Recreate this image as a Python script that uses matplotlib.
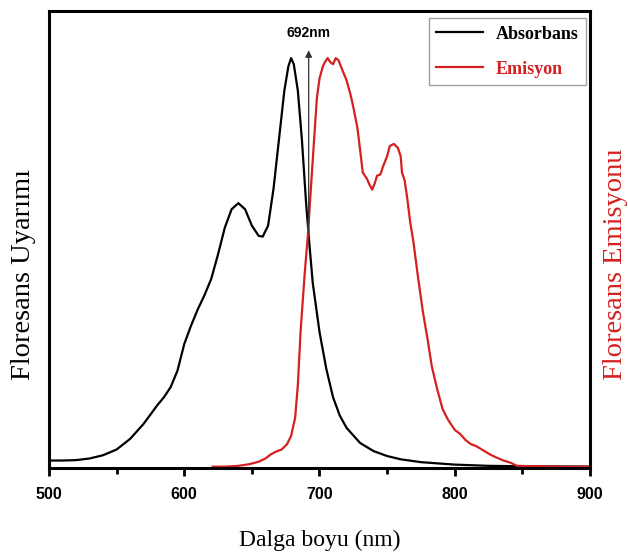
import matplotlib
matplotlib.use("Agg")
import matplotlib.pyplot as plt
from matplotlib.ticker import MultipleLocator

# Absorbans (black) curve
abs_x = [500, 510, 520, 530, 540, 550, 560, 570, 580, 585, 590, 595, 600, 605, 610, 615, 620,
         625, 630, 635, 640, 645, 650, 655, 658, 662, 666, 670, 674, 677, 679, 681, 684, 687,
         690, 692, 695, 700, 705, 710, 715, 720, 730, 740, 750, 760, 775, 800, 825, 850, 900]
abs_y = [0.015, 0.015, 0.016, 0.020, 0.028, 0.042, 0.068, 0.105, 0.150, 0.170, 0.195, 0.235,
         0.300, 0.345, 0.385, 0.420, 0.460, 0.520, 0.585, 0.630, 0.645, 0.630, 0.590, 0.565,
         0.563, 0.590, 0.680, 0.800, 0.920, 0.980, 1.000, 0.985, 0.920, 0.800, 0.650, 0.565,
         0.450, 0.330, 0.240, 0.170, 0.125, 0.095, 0.058, 0.038, 0.026, 0.018, 0.011, 0.005,
         0.002, 0.001, 0.0]

# Emisyon (red) curve
em_x = [621, 630, 640, 648, 655, 660, 664, 668, 672, 676, 679, 682, 684, 686, 689, 691.5,
        694, 696, 698, 700, 702.5, 704, 706, 708, 710, 712, 714, 717, 720, 723, 725, 728,
        730, 732, 735, 737, 739, 741, 742.5, 745, 747, 750, 752, 755, 758, 760, 761, 763,
        765, 767, 769.5, 773, 776.5, 780, 783, 787, 791, 795, 800, 804, 808, 812, 816, 821,
        826, 831, 836, 841, 846, 860, 880, 900]
em_y = [0.0, 0.0, 0.002, 0.006, 0.012, 0.020, 0.030, 0.037, 0.042, 0.055, 0.075, 0.120,
        0.200, 0.330, 0.470, 0.570, 0.700, 0.800, 0.900, 0.950, 0.980, 0.990, 1.000, 0.990,
        0.985, 1.000, 0.995, 0.970, 0.946, 0.910, 0.880, 0.830, 0.776, 0.720, 0.705, 0.690,
        0.678, 0.695, 0.712, 0.715, 0.735, 0.760, 0.785, 0.790, 0.780, 0.760, 0.720, 0.700,
        0.654, 0.600, 0.549, 0.460, 0.378, 0.310, 0.246, 0.190, 0.141, 0.115, 0.090, 0.080,
        0.065, 0.055, 0.050, 0.040, 0.030, 0.022, 0.015, 0.010, 0.002, 0.001, 0.0, 0.0]

xticks = [500, 600, 700, 800, 900]
arrow_x = 692
arrow_label = "692nm"

RED = "#d42020"

fig = plt.figure(figsize=(6.28, 5.57), dpi=100)
ax = fig.add_axes([0.078, 0.160, 0.8615, 0.820])

l1, = ax.plot(abs_x, abs_y, color="black", lw=1.6, label="Absorbans")
l2, = ax.plot(em_x, em_y, color=RED, lw=1.6, label="Emisyon")

ax.set_xlim(500, 900)
ax.set_ylim(-0.003, 1.115)
ax.set_xticks(xticks)
ax.xaxis.set_minor_locator(MultipleLocator(50))
ax.set_yticks([])
ax.tick_params(axis="x", which="major", direction="out", length=6, width=2, pad=8)
ax.tick_params(axis="x", which="minor", direction="out", length=4, width=2)
for lab in ax.get_xticklabels():
    lab.set_fontfamily("Liberation Sans")
    lab.set_fontweight("bold")
    lab.set_fontsize(11.5)
for s in ax.spines.values():
    s.set_linewidth(2.2)

ax.set_xlabel("Dalga boyu (nm)", fontfamily="Liberation Serif", fontsize=17, labelpad=20)
fig.text(24 / 628, 1 - 275 / 557, "Floresans Uyarımı", rotation=90, ha="center", va="center",
         fontfamily="Liberation Serif", fontsize=20.5)
fig.text(616 / 628, 1 - 264 / 557, "Floresans Emisyonu", rotation=90, ha="center", va="center",
         fontfamily="Liberation Serif", fontsize=20.5, color=RED)

ax.annotate("", xy=(arrow_x, 1.026), xytext=(arrow_x, 0.565),
            arrowprops=dict(arrowstyle="-|>", color="#333333", lw=0.9, mutation_scale=10))
ax.text(arrow_x, 1.062, arrow_label, ha="center", va="center", fontfamily="Liberation Sans",
        fontweight="bold", fontsize=10)

leg = ax.legend(handles=[l1, l2], loc="upper right", bbox_to_anchor=(0.992, 0.984),
                prop=dict(family="Liberation Serif", weight="bold", size=13),
                frameon=True, fancybox=False, edgecolor="#888888", handlelength=2.6,
                handletextpad=0.7, borderpad=0.4, labelspacing=1.0, borderaxespad=0)
leg.get_frame().set_linewidth(1.0)
leg.get_texts()[1].set_color(RED)

fig.savefig("out.png", dpi=100)
